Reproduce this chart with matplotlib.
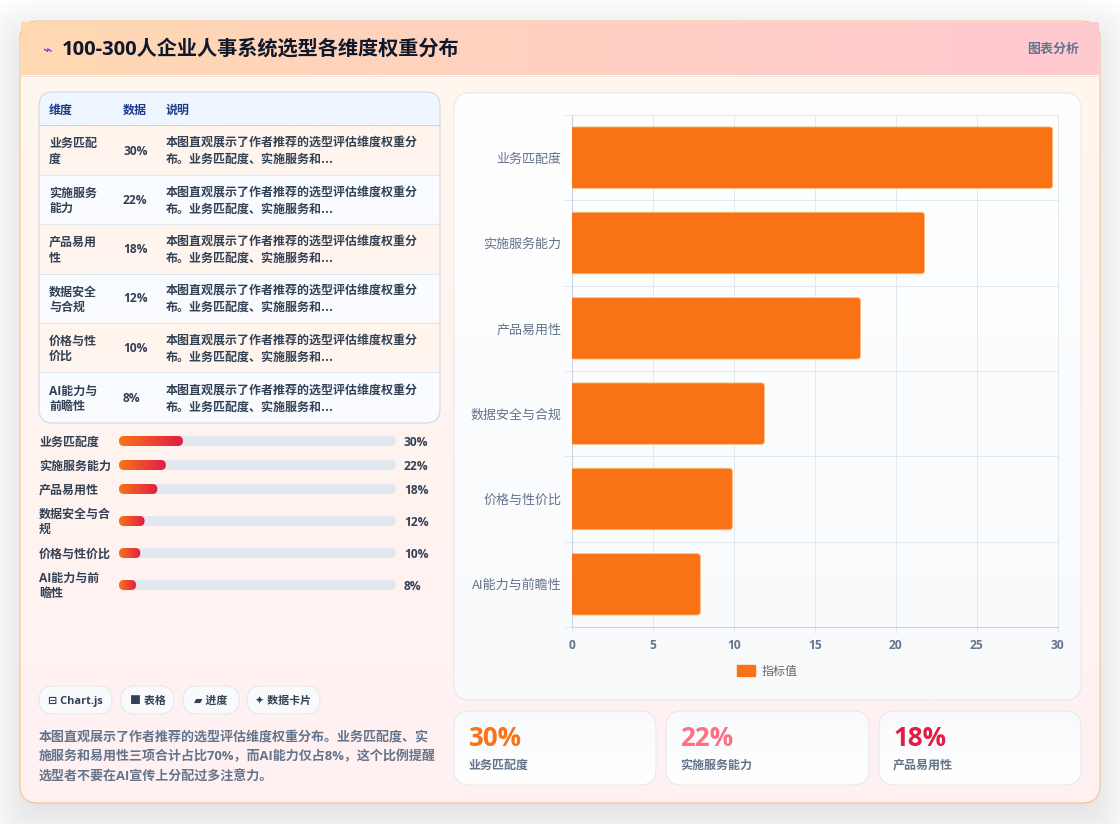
import numpy as np
import matplotlib
matplotlib.use('Agg')
import matplotlib.pyplot as plt
from matplotlib.colors import to_rgb
from matplotlib.patches import FancyBboxPatch, Patch

plt.rcParams['font.family'] = ['Noto Sans CJK SC', 'DejaVu Sans']
MIXED = ['Open Sans', 'Noto Sans CJK SC', 'DejaVu Sans']

categories = ['业务匹配度', '实施服务能力', '产品易用性', '数据安全与合规', '价格与性价比', 'AI能力与前瞻性']
values = [30, 22, 18, 12, 10, 8]
table_names = ['业务匹配\n度', '实施服务\n能力', '产品易用\n性', '数据安全\n与合规', '价格与性\n价比', 'AI能力与\n前瞻性']
progress_names = ['业务匹配度', '实施服务能力', '产品易用性', '数据安全与合\n规', '价格与性价比', 'AI能力与前\n瞻性']
table_note = '本图直观展示了作者推荐的选型评估维度权重分\n布。业务匹配度、实施服务和...'
table_head = ['维度', '数据', '说明']
chips = ['⊟ Chart.js', '■ 表格', '▰ 进度', '✦ 数据卡片']
summary = ['本图直观展示了作者推荐的选型评估维度权重分布。业务匹配度、实',
           '施服务和易用性三项合计占比70%，而AI能力仅占8%，这个比例提醒',
           '选型者不要在AI宣传上分配过多注意力。']
stat_colors = ['#f97316', '#fb7185', '#e11d48']
x_ticks = [0, 5, 10, 15, 20, 25, 30]


def px(size):
    return size * 0.72


def round_box(x0, y0, x1, y1, r, **kw):
    box = FancyBboxPatch((x0, y0), x1 - x0, y1 - y0,
                         boxstyle=f'round,pad=0,rounding_size={r}', **kw)
    bg.add_patch(box)
    return box


def gradient(x0, y0, x1, y1, c0, c1, horizontal=False, clip=None, zorder=1):
    t = np.linspace(0, 1, 64)
    t = t[None, :] if horizontal else t[:, None]
    a, b = np.array(to_rgb(c0)), np.array(to_rgb(c1))
    img = a + (b - a) * t[..., None]
    im = bg.imshow(img, extent=(x0, x1, y1, y0), aspect='auto',
                   interpolation='bilinear', zorder=zorder)
    if clip is not None:
        im.set_clip_path(clip)
    return im


def panel(x0, y0, x1, y1, r, c0, c1, edge, zorder=2):
    shape = round_box(x0, y0, x1, y1, r, fc='none', ec='none', zorder=zorder)
    gradient(x0, y0, x1, y1, c0, c1, clip=shape, zorder=zorder)
    round_box(x0, y0, x1, y1, r, fc='none', ec=edge, lw=0.72, zorder=zorder + 0.5)
    return shape


def label(x, y, s, size, color, **kw):
    kw.setdefault('va', 'center')
    kw.setdefault('weight', 'bold')
    kw.setdefault('zorder', 4)
    return bg.text(x, y, s, fontsize=px(size), color=color, **kw)


fig = plt.figure(figsize=(11.2, 8.24), dpi=100, facecolor='white')
bg = fig.add_axes([0, 0, 1, 1])
bg.set_axis_off()

# soft shadow under the card
for grow in range(-10, 42, 2):
    round_box(20 - grow, 21 + 14 - grow, 1100 + grow, 803 + 14 + grow, 18 + max(grow, 0),
              fc='black', ec='none', alpha=0.0042, zorder=0)

# card and header
card = panel(20, 21, 1100, 803, 18, '#fff7ed', '#fff1f2', '#f6bd80', zorder=1)
gradient(21, 22, 1099, 75, '#ffd8b2', '#ffc9d1', horizontal=True, zorder=3)
bg.plot([21, 1099], [75.5, 75.5], color='#f1e4dc', lw=0.72, zorder=3.5)
label(47, 50, '⌁', 16, '#4f46e5', ha='center', weight='normal')
label(62, 50, '100-300人企业人事系统选型各维度权重分布', 20.2, '#0f172a', family=MIXED)
label(1079, 48.5, '图表分析', 13, '#64748b', ha='right')

# table
tx0, tx1 = 39, 440
row_edges = [125, 175, 224, 273.5, 322.5, 372, 423]
table = round_box(tx0, 92, tx1, 423, 14, fc='#ffffff', ec='none', zorder=2)
gradient(tx0, 92, tx1, 125, '#eff6ff', '#eff6ff', clip=table, zorder=2.1)
for i in range(len(values)):
    top, bottom = row_edges[i], row_edges[i + 1]
    shade = ('#fff5ec', '#fff6f0') if i % 2 == 0 else ('#f8fbff', '#fafcff')
    gradient(tx0, top, tx1, bottom, shade[0], shade[1], clip=table, zorder=2.1)
    bg.plot([tx0, tx1], [top, top], color='#cbd5e1' if i == 0 else '#e2e8f0', lw=0.72, zorder=2.3)
    mid = (top + bottom) / 2
    label(49, mid + 1.5, table_names[i], 12, '#334155', linespacing=1.25, family=MIXED)
    label(123, mid + 1, f'{values[i]}%', 12, '#334155', family=MIXED)
    label(166, mid + 1.5, table_note, 12, '#334155', linespacing=1.32)
round_box(tx0, 92, tx1, 423, 14, fc='none', ec='#cbd5e1', lw=0.72, zorder=3)
for x, name in zip([49, 123, 166], table_head):
    label(x, 110, name, 12, '#1e3a8a')

# progress rows
track_x0, track_x1 = 119, 396
track_full = 130
row_y = [441, 465, 489, 521, 553, 585]
for name, value, y in zip(progress_names, values, row_y):
    label(39, y + 1, name, 12, '#334155', linespacing=1.25, family=MIXED)
    round_box(track_x0, y - 5, track_x1, y + 5, 5, fc='#e2e8f0', ec='none', zorder=2)
    end = track_x0 + (track_x1 - track_x0) * value / track_full
    fill = round_box(track_x0, y - 5, end, y + 5, 5, fc='none', ec='none', zorder=2.2)
    gradient(track_x0, y - 5, end, y + 5, '#f97316', '#e11d48', horizontal=True, clip=fill, zorder=2.2)
    label(404, y + 1, f'{value}%', 12, '#334155', family=MIXED)

# chips
chip_x = [(39, 112), (121, 174), (183, 239), (247, 320)]
for (x0, x1), chip in zip(chip_x, chips):
    round_box(x0, 686, x1, 714, 14, fc='#f8fafc', ec='#e2e8f0', lw=0.72, zorder=2)
    label((x0 + x1) / 2, 701.5, chip, 11, '#334155', ha='center', family=MIXED)

for y, line in zip([737, 757, 777], summary):
    label(39, y, line, 13, '#64748b', family=MIXED)

# chart panel and stat cards
panel(454, 93, 1081, 700, 16, '#ffffff', '#f8fafc', '#e2e8f0')
stat_x = [(454, 656), (666, 869), (879, 1081)]
for i, (x0, x1) in enumerate(stat_x):
    panel(x0, 711, x1, 785, 16, '#f8fafc', '#ffffff', '#e2e8f0')
    label(x0 + 14, 738.5, f'{values[i]}%', 26, stat_colors[i], family=MIXED)
    label(x0 + 14, 765, categories[i], 12, '#64748b', family=MIXED)

bg.set_xlim(0, 1120)
bg.set_ylim(824, 0)

# bar chart
ax = fig.add_axes([572.2 / 1120, 1 - 627 / 824, 485.3 / 1120, 512 / 824], zorder=5)
ax.patch.set_alpha(0)
pos = np.arange(len(categories))
bar_h = 0.72
bars = ax.barh(pos, values, height=bar_h, color='#f97316', zorder=3)
ax.set_xlim(0, 30)
ax.set_ylim(len(categories) - 0.5, -0.5)

# square at the axis, small rounded corners and a pale edge at the far end
for bar, y, v in zip(bars, pos, values):
    shape = FancyBboxPatch((-1, y - bar_h / 2), v * 0.99 + 1, bar_h,
                           boxstyle='round,pad=0,rounding_size=0.2',
                           mutation_aspect=0.19, transform=ax.transData,
                           fc='none', ec='#fdba74', lw=0.6, zorder=3.1)
    ax.add_patch(shape)
    bar.set_clip_path(shape)

ax.set_yticks(pos, categories)
ax.set_yticks(np.arange(len(categories) + 1) - 0.5, minor=True)
ax.set_xticks(x_ticks)
ax.tick_params(axis='y', which='major', length=0, pad=8, labelsize=px(13), labelcolor='#64748b')
ax.tick_params(axis='y', which='minor', length=px(8), width=0.72, color='#e2e8f0')
ax.tick_params(axis='x', length=px(6), width=0.72, color='#e2e8f0', pad=4.5, labelsize=px(12),
               labelcolor='#64748b')
for tick in ax.get_xticklabels():
    tick.set_fontweight('bold')
    tick.set_family(MIXED)
for tick in ax.get_yticklabels():
    tick.set_verticalalignment('center_baseline')
ax.grid(axis='x', color='#e2e8f0', lw=0.72, zorder=1)
ax.grid(axis='y', which='minor', color='#e2e8f0', lw=0.72, zorder=1)
ax.set_axisbelow(True)
for side in ['top', 'right']:
    ax.spines[side].set_color('#e2e8f0')
    ax.spines[side].set_linewidth(0.72)
for side in ['left', 'bottom']:
    ax.spines[side].set_color('#cbd5e1')
    ax.spines[side].set_linewidth(0.8)

ax.legend(handles=[Patch(color='#f97316', label='指标值')], loc='center',
          bbox_to_anchor=(767 / 1120, 1 - 671 / 824), bbox_transform=fig.transFigure,
          frameon=False, fontsize=px(12), handlelength=1.54, handleheight=1.0,
          handletextpad=0.5, labelcolor='#666666')

fig.savefig('out.png', dpi=100, facecolor='white')
